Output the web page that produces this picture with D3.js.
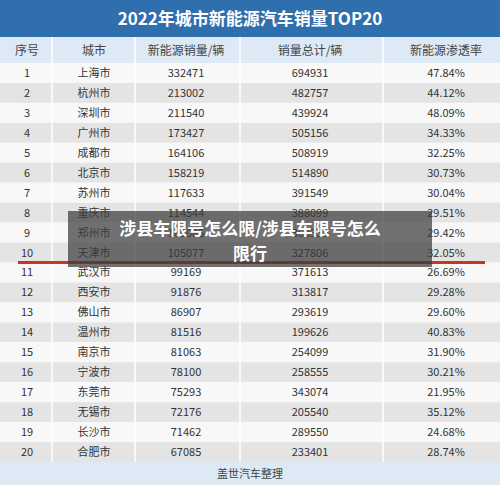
<!doctype html>
<html><head><meta charset="utf-8">
<script src="https://cdn.jsdelivr.net/npm/d3@7"></script>
<style>body{margin:0;background:#fff}svg{display:block;font-family:"Noto Sans CJK SC","Noto Sans",sans-serif}</style>
</head><body>
<svg id="c" width="500" height="485"></svg>
<script>
const headers = ["序号","城市","新能源销量/辆","销量总计/辆","新能源渗透率"];
const cities = ["上海市","杭州市","深圳市","广州市","成都市","北京市","苏州市","重庆市","郑州市","天津市","武汉市","西安市","佛山市","温州市","南京市","宁波市","东莞市","无锡市","长沙市","合肥市"];
const nevSales = [332471,213002,211540,173427,164106,158219,117633,114544,106085,105077,99169,91876,86907,81516,81063,78100,75293,72176,71462,67085];
const totalSales = [694931,482757,439924,505156,508919,514890,391549,388099,363350,327806,371613,313817,293619,199626,254099,258555,343074,205540,289550,233401];
const rates = ["47.84%","44.12%","48.09%","34.33%","32.25%","30.73%","30.04%","29.51%","29.42%","32.05%","26.69%","29.28%","29.60%","40.83%","31.90%","30.21%","21.95%","35.12%","24.68%","28.74%"];

const svg = d3.select("#c");
const colX = d3.scaleOrdinal().domain(d3.range(5)).range([27, 94, 186, 310, 446]);
const y = d3.scaleBand().domain(d3.range(20)).range([63, 462]);
const rowH = y.bandwidth();

svg.append("rect").attr("width",500).attr("height",37).attr("fill","#2f6fae");
svg.append("text").attr("x",250).attr("y",25).attr("text-anchor","middle")
  .attr("fill","#fff").attr("font-size",17).attr("font-weight","bold").text("2022年城市新能源汽车销量TOP20");
svg.append("rect").attr("y",37).attr("width",500).attr("height",26).attr("fill","#dde9f4");
headers.forEach((h,i)=>svg.append("text").attr("x",colX(i)).attr("y",55).attr("text-anchor","middle")
  .attr("font-size",12).attr("fill","#444").text(h));

const rows = svg.selectAll("g.row").data(d3.range(20)).join("g").attr("transform",i=>`translate(0,${y(i)})`);
rows.append("rect").attr("width",500).attr("height",rowH).attr("fill",i=>i%2?"#e4e4e4":"#f8f8f8");
const cells = i=>[i+1, cities[i], nevSales[i], totalSales[i], rates[i]];
rows.selectAll("text").data(i=>cells(i)).join("text")
  .attr("x",(d,j)=>colX(j)).attr("y",rowH/2+4).attr("text-anchor","middle")
  .attr("font-size",11).attr("fill","#333").text(d=>d);
[52,135,240,383].forEach(x=>svg.append("line").attr("x1",x).attr("x2",x).attr("y1",37).attr("y2",462).attr("stroke","#fff").attr("stroke-width",1.5));

svg.append("line").attr("x1",18).attr("x2",485).attr("y1",y(9)+rowH).attr("y2",y(9)+rowH)
  .attr("stroke","#c8361f").attr("stroke-width",3);

svg.append("rect").attr("y",462).attr("width",500).attr("height",23).attr("fill","#dde9f4");
svg.append("text").attr("x",250).attr("y",478).attr("text-anchor","middle").attr("font-size",11).attr("fill","#444").text("盖世汽车整理");

svg.append("rect").attr("x",68).attr("y",211).attr("width",364).attr("height",56).attr("fill","rgba(60,60,60,0.72)");
svg.append("text").attr("x",250).attr("y",235).attr("text-anchor","middle").attr("fill","#fff")
  .attr("font-size",17).attr("font-weight","bold").text("涉县车限号怎么限/涉县车限号怎么");
svg.append("text").attr("x",250).attr("y",260).attr("text-anchor","middle").attr("fill","#fff")
  .attr("font-size",17).attr("font-weight","bold").text("限行");
</script>
</body></html>
